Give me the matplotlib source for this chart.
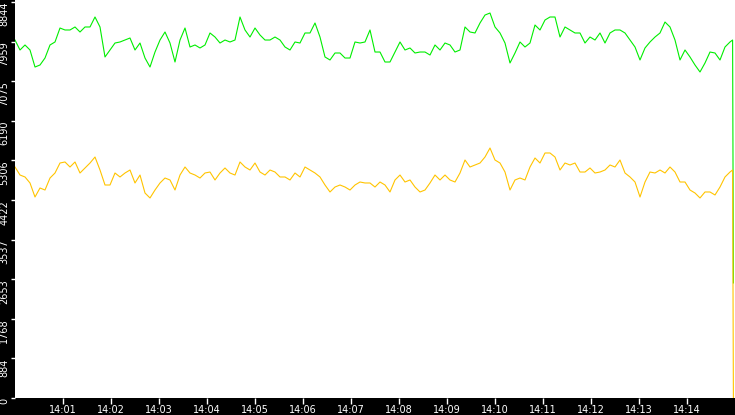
import numpy as np
import pandas as pd
import matplotlib
matplotlib.use('Agg')
import matplotlib.pyplot as plt
import matplotlib.dates as mdates
from matplotlib import rcParams

rcParams['font.family'] = 'DejaVu Sans'
rcParams['font.size'] = 8

# sampled every 6.25 s starting 14:00:00
green = [7995, 7772, 7884, 7772, 7392, 7437, 7593, 7884, 7951, 8263, 8219, 8219,
         8286, 8174, 8286, 8286, 8509, 8286, 7616, 7772, 7928, 7951, 7995, 8040,
         7772, 7928, 7593, 7392, 7727, 7995, 8174, 7928, 7504, 7995, 8263, 7839,
         7884, 7817, 7884, 8152, 8062, 7928, 7995, 7951, 7995, 8509, 8219, 8062,
         8263, 8107, 7995, 7995, 8062, 7995, 7839, 7772, 7951, 7928, 8152, 8152,
         8375, 8062, 7616, 7549, 7705, 7705, 7593, 7593, 7951, 7928, 7951, 8219,
         7727, 7727, 7504, 7504, 7727, 7951, 7772, 7817, 7705, 7727, 7727, 7660,
         7884, 7772, 7928, 7884, 7727, 7772, 8286, 8174, 8152, 8375, 8553, 8598,
         8286, 8152, 7928, 7482, 7705, 7951, 7839, 7928, 8330, 8219, 8442, 8509,
         8509, 8062, 8286, 8219, 8152, 8152, 7928, 8062, 7995, 8152, 7928, 8152,
         8219, 8219, 8152, 7995, 7839, 7549, 7817, 7951, 8062, 8152, 8397, 8286,
         7995, 7549, 7772, 7616, 7437, 7281, 7482, 7727, 7705, 7549, 7839, 7951]
orange = [5159, 4980, 4936, 4802, 4489, 4690, 4645, 4913, 5025, 5248, 5271, 5159,
          5271, 5025, 5137, 5248, 5382, 5092, 4757, 4757, 5025, 4936, 5025, 5092,
          4802, 4980, 4578, 4467, 4645, 4802, 4913, 4869, 4645, 4980, 5159, 5025,
          4980, 4913, 5025, 5047, 4869, 5025, 5137, 5025, 4980, 5271, 5159, 5092,
          5248, 5047, 4980, 5092, 5047, 4936, 4936, 4869, 5025, 4936, 5159, 5092,
          5025, 4936, 4757, 4601, 4712, 4757, 4712, 4645, 4757, 4824, 4802, 4802,
          4712, 4824, 4757, 4601, 4869, 4980, 4824, 4869, 4712, 4601, 4645, 4802,
          4980, 4869, 4980, 4869, 4824, 5025, 5315, 5159, 5204, 5248, 5382, 5583,
          5315, 5248, 5047, 4645, 4869, 4913, 4869, 5159, 5360, 5248, 5472, 5472,
          5382, 5092, 5248, 5204, 5248, 5047, 5047, 5137, 5025, 5047, 5092, 5204,
          5159, 5315, 5025, 4936, 4824, 4489, 4824, 5047, 5025, 5092, 5025, 5159,
          5047, 4824, 4824, 4645, 4578, 4467, 4601, 4601, 4534, 4712, 4936, 5047]
green_tail = [7995, 2570]
orange_tail = [5092, 0]
tail_sec = [897, 898]

yticks = [0, 884, 1768, 2653, 3537, 4422, 5306, 6190, 7075, 7959, 8844]

t0 = pd.Timestamp('2024-01-01 14:00:00')
t = t0 + pd.to_timedelta(np.arange(len(green)) * 6.25, unit='s')
tt = t0 + pd.to_timedelta(tail_sec, unit='s')
tg = t.append(tt)
yg = green + green_tail
yo = orange + orange_tail

fig = plt.figure(figsize=(7.35, 4.15), dpi=100, facecolor='black')
ax = fig.add_axes([15 / 735, 17 / 415, 720 / 735, 398 / 415])
ax.set_facecolor('white')

ax.plot(tg, yg, color='#00ee00', linewidth=0.8)
ax.plot(tg, yo, color='#ffc400', linewidth=0.8)

ax.set_xlim(t0, t0 + pd.Timedelta(minutes=15))
ax.set_ylim(0, 8844 * 398 / 396)

ax.set_yticks(yticks)
ax.set_yticklabels([str(v) for v in yticks], fontsize=7)
for lab in ax.get_yticklabels():
    lab.set_rotation(90)
    lab.set_va('top')
    lab.set_ha('right')

ax.xaxis.set_major_locator(mdates.MinuteLocator(byminute=range(1, 15)))
ax.xaxis.set_major_formatter(mdates.DateFormatter('%H:%M'))

ax.tick_params(colors='white', labelcolor='white', direction='out', width=1)
ax.tick_params(axis='x', length=4, pad=1, labelsize=7)
ax.tick_params(axis='y', length=3, pad=1)
for s in ax.spines.values():
    s.set_visible(False)

plt.savefig('out.png', dpi=100, facecolor='black')
